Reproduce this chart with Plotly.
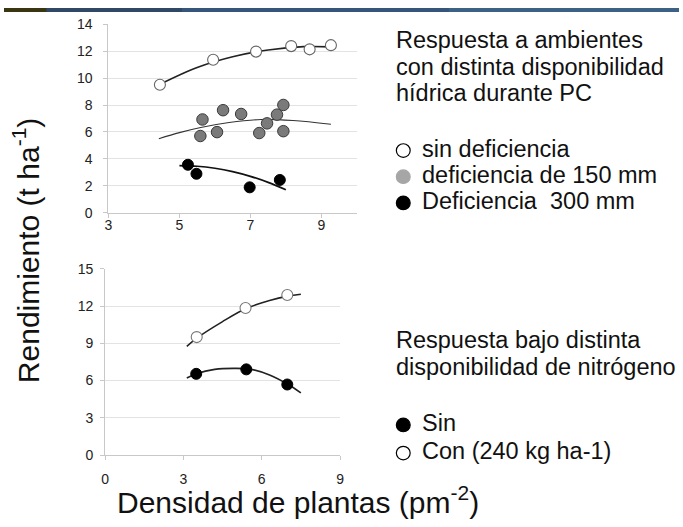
import plotly.graph_objects as go

W, H = 683, 527
FONT = "Liberation Sans, Arial, sans-serif"

# ---------- Top panel: water availability ----------
top_x_ticks = [3, 5, 7, 9]
top_y_ticks = [0, 2, 4, 6, 8, 10, 12, 14]

sin_def_x = [4.45, 5.95, 7.16, 8.15, 8.67, 9.27]
sin_def_y = [9.52, 11.38, 11.98, 12.39, 12.15, 12.46]
sin_def_fit_x = [4.45, 5.5, 6.5, 7.5, 8.5, 9.27]
sin_def_fit_y = [9.55, 10.8, 11.6, 12.1, 12.35, 12.33]

def150_x = [5.65, 5.59, 6.23, 6.06, 6.74, 7.25, 7.47, 7.75, 7.93, 7.93]
def150_y = [6.93, 5.70, 7.62, 5.99, 7.34, 5.92, 6.64, 7.29, 8.01, 6.06]
def150_fit_x = [4.42, 5.0, 5.6, 6.4, 7.3, 8.2, 9.27]
def150_fit_y = [5.5, 5.95, 6.33, 6.7, 6.93, 6.85, 6.57]

def300_x = [5.24, 5.48, 6.98, 7.83]
def300_y = [3.56, 2.89, 1.88, 2.43]
def300_fit_x = [5.0, 5.5, 6.0, 6.5, 7.0, 7.5, 8.0]
def300_fit_y = [3.5, 3.45, 3.3, 3.05, 2.7, 2.25, 1.7]

# ---------- Bottom panel: nitrogen ----------
bot_x_ticks = [0, 3, 6, 9]
bot_y_ticks = [0, 3, 6, 9, 12, 15]

con_n_x = [3.51, 5.38, 6.98]
con_n_y = [9.5, 11.85, 12.89]
con_n_fit_x = [3.13, 3.5, 4.5, 5.4, 6.3, 7.0, 7.5]
con_n_fit_y = [8.75, 9.4, 10.75, 11.8, 12.45, 12.8, 12.95]

sin_n_x = [3.49, 5.41, 6.98]
sin_n_y = [6.54, 6.9, 5.68]
sin_n_fit_x = [3.13, 3.5, 4.2, 5.0, 5.6, 6.3, 7.0, 7.5]
sin_n_fit_y = [6.2, 6.55, 6.9, 6.98, 6.9, 6.45, 5.7, 5.0]


def px(x):
    return x / W


def py(y):
    return 1 - y / H


fig = go.Figure()

# top panel traces
fig.add_trace(go.Scatter(x=sin_def_fit_x, y=sin_def_fit_y, mode="lines", line=dict(color="#222", width=1.6, shape="spline"), xaxis="x", yaxis="y"))
fig.add_trace(go.Scatter(x=def150_fit_x, y=def150_fit_y, mode="lines", line=dict(color="#333", width=1.1, shape="spline"), xaxis="x", yaxis="y"))
fig.add_trace(go.Scatter(x=def300_fit_x, y=def300_fit_y, mode="lines", line=dict(color="#111", width=1.7, shape="spline"), xaxis="x", yaxis="y"))
fig.add_trace(go.Scatter(x=sin_def_x, y=sin_def_y, mode="markers", marker=dict(size=11, color="white", line=dict(color="#666", width=1.1)), xaxis="x", yaxis="y"))
fig.add_trace(go.Scatter(x=def150_x, y=def150_y, mode="markers", marker=dict(size=11.5, color="#7a7a7a", line=dict(color="#3a3a3a", width=1)), xaxis="x", yaxis="y"))
fig.add_trace(go.Scatter(x=def300_x, y=def300_y, mode="markers", marker=dict(size=11, color="#000", line=dict(color="#000", width=1)), xaxis="x", yaxis="y"))

# bottom panel traces
fig.add_trace(go.Scatter(x=con_n_fit_x, y=con_n_fit_y, mode="lines", line=dict(color="#222", width=1.6, shape="spline"), xaxis="x2", yaxis="y2"))
fig.add_trace(go.Scatter(x=sin_n_fit_x, y=sin_n_fit_y, mode="lines", line=dict(color="#222", width=1.6, shape="spline"), xaxis="x2", yaxis="y2"))
fig.add_trace(go.Scatter(x=con_n_x, y=con_n_y, mode="markers", marker=dict(size=11, color="white", line=dict(color="#777", width=1.1)), xaxis="x2", yaxis="y2"))
fig.add_trace(go.Scatter(x=sin_n_x, y=sin_n_y, mode="markers", marker=dict(size=11, color="#000", line=dict(color="#000", width=1)), xaxis="x2", yaxis="y2"))

axis_common = dict(
    showgrid=False, zeroline=False, showline=True, linecolor="#c8c8c8", linewidth=1,
    ticks="outside", ticklen=4, tickcolor="#c8c8c8",
    tickfont=dict(family=FONT, size=14, color="#222"), fixedrange=True,
)

fig.update_layout(
    width=W, height=H,
    margin=dict(l=0, r=0, t=0, b=0),
    paper_bgcolor="white", plot_bgcolor="white",
    showlegend=False,
    xaxis=dict(axis_common, domain=[px(105.7), px(357)], range=[3, 10], tickvals=top_x_ticks, anchor="y",
               ticklabelstandoff=-4),
    yaxis=dict(axis_common, domain=[py(211), py(17)], range=[0, 14], tickvals=top_y_ticks, anchor="x",
               showgrid=True, gridcolor="#e3e3e3", gridwidth=1, ticklabelstandoff=8),
    xaxis2=dict(axis_common, domain=[px(102.3), px(340)], range=[0, 9], tickvals=bot_x_ticks, anchor="y2",
                ticklabelstandoff=7),
    yaxis2=dict(axis_common, domain=[py(461), py(269)], range=[0, 15], tickvals=bot_y_ticks, anchor="x2",
                showgrid=True, gridcolor="#e3e3e3", gridwidth=1, ticklabelstandoff=4),
)

ann = []
# axis titles
ann.append(dict(text="Rendimiento (t ha<sup>-1</sup>)", x=px(23), y=py(250), xref="paper", yref="paper",
                textangle=-90, showarrow=False, xanchor="center", yanchor="middle",
                font=dict(family=FONT, size=30, color="#111")))
ann.append(dict(text="Densidad de plantas (pm<sup>-2</sup>)", x=px(297), y=py(507), xref="paper", yref="paper",
                showarrow=False, xanchor="center", yanchor="middle",
                font=dict(family=FONT, size=30, color="#111")))

# right-side texts
right_lines = [
    ("Respuesta a ambientes", 33),
    ("con distinta disponibilidad", 61),
    ("hídrica durante PC", 88),
    ("Respuesta bajo distinta", 342),
    ("disponibilidad de nitrógeno", 370),
]
for t, yy in right_lines:
    ann.append(dict(text=t, x=px(395), y=py(yy), xref="paper", yref="paper", showarrow=False,
                    xanchor="left", yanchor="middle", font=dict(family=FONT, size=23.5, color="#111")))

legend_items = [
    ("sin deficiencia", 145, "white", "#000"),
    ("deficiencia de 150 mm", 172, "#a6a6a6", "#a6a6a6"),
    ("Deficiencia  300 mm", 199, "#000", "#000"),
    ("Sin", 428, "#000", "#000"),
    ("Con (240 kg ha-1)", 457, "white", "#000"),
]
shapes = []
for t, yy, fill, edge in legend_items:
    ann.append(dict(text=t.replace("  ", "&nbsp; "), x=px(421), y=py(yy), xref="paper", yref="paper", showarrow=False,
                    xanchor="left", yanchor="middle", font=dict(family=FONT, size=23.5, color="#111")))
    r = 7
    shapes.append(dict(type="circle", xref="paper", yref="paper",
                       x0=px(404 - r), x1=px(404 + r), y0=py(yy + 2 + r), y1=py(yy + 2 - r),
                       fillcolor=fill, line=dict(color=edge, width=1.2)))

# top decorative band
shapes.append(dict(type="rect", xref="paper", yref="paper", x0=0, x1=1, y0=py(4), y1=1,
                   fillcolor="#2f4866", line=dict(width=0), layer="above"))
shapes.append(dict(type="rect", xref="paper", yref="paper", x0=px(180), x1=1, y0=py(4), y1=1,
                   fillcolor="#35557a", line=dict(width=0), layer="above"))
shapes.append(dict(type="rect", xref="paper", yref="paper", x0=px(450), x1=1, y0=py(4), y1=1,
                   fillcolor="#3d6185", line=dict(width=0), layer="above"))
shapes.append(dict(type="rect", xref="paper", yref="paper", x0=0, x1=px(43), y0=py(4), y1=1,
                   fillcolor="#3b3612", line=dict(width=0), layer="above"))

fig.update_layout(annotations=ann, shapes=shapes)
fig.write_html("out.html")
